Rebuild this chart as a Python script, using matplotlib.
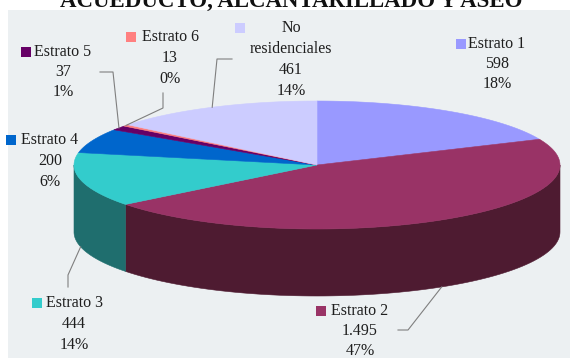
import numpy as np
import matplotlib
matplotlib.use("Agg")
import matplotlib.pyplot as plt
from matplotlib.patches import Polygon, Rectangle

# Suscriptores por estrato
categories = ["Estrato 1", "Estrato 2", "Estrato 3", "Estrato 4",
              "Estrato 5", "Estrato 6", "No\nresidenciales"]
values = [598, 1495, 444, 200, 37, 13, 461]
percent_labels = ["18%", "47%", "14%", "6%", "1%", "0%", "14%"]
title = "ACUEDUCTO, ALCANTARILLADO Y ASEO"

TOP_COLORS = ["#9999FF", "#993366", "#33CCCC", "#0066CC",
              "#660066", "#FF8080", "#CCCCFF"]
SIDE_COLORS = ["#5C5C99", "#4E1B31", "#1F6E6E", "#003D7A",
               "#3D003D", "#994D4D", "#7A7A99"]

# pie geometry in pixel units
CX, CY = 317, 165
RX, RY = 243, 64
DEPTH = 67

# label blocks: (key x, key y, text centre x, first line y, line gap)
LABEL_POS = [
    (456, 39, 497, 44, 20),
    (316, 306, 360, 311, 20),
    (32, 298, 74, 303, 21),
    (6, 135, 50, 140, 21),
    (21, 47, 63, 52, 20),
    (126, 32, 170, 37, 21),
    (235, 23, 291, 28, 21),
]
# elbow points of leader lines (label side)
LEADERS = {
    1: [(398, 330), (408, 330)],
    2: [(68, 287), (68, 275)],
    4: [(100, 72), (113, 72)],
    5: [(163, 93), (163, 108)],
    6: [(232, 59), (217, 59)],
}

SERIF = ["Liberation Serif", "DejaVu Serif"]
TEXT_COLOR = "#1E1E1E"


def ell(t_deg, dy=0.0):
    t = np.radians(t_deg)
    return CX + RX * np.cos(t), CY - RY * np.sin(t) + dy


fig = plt.figure(figsize=(5.7, 3.58), dpi=100)
fig.patch.set_facecolor("white")
ax = fig.add_axes([0, 0, 1, 1])
ax.set_xlim(0, 570)
ax.set_ylim(358, 0)
ax.axis("off")

# chart area
ax.add_patch(Rectangle((8, 10), 570, 360, facecolor="#ECF0F2",
                       edgecolor="none", zorder=0))
# title sits above the visible frame, only its lower part shows
ax.text(291, 7, title, ha="center", va="baseline", fontsize=16.5,
        fontweight="bold", family=SERIF, color="#111111", zorder=5)

total = float(sum(values))
bounds = 90 - 360 * np.concatenate([[0], np.cumsum(values)]) / total
starts, ends = bounds[:-1], bounds[1:]

# front rim (only where sin(t) < 0)
for i, (s, e) in enumerate(zip(starts, ends)):
    for k in range(-2, 2):
        lo, hi = max(e, k * 360 - 180), min(s, k * 360)
        if hi <= lo:
            continue
        t = np.linspace(lo, hi, 80)
        xt, yt = ell(t)
        xb, yb = ell(t[::-1], DEPTH)
        pts = np.column_stack([np.concatenate([xt, xb]), np.concatenate([yt, yb])])
        ax.add_patch(Polygon(pts, closed=True, facecolor=SIDE_COLORS[i],
                             edgecolor=SIDE_COLORS[i], lw=0.4, zorder=1))

# top face
for i, (s, e) in enumerate(zip(starts, ends)):
    t = np.linspace(s, e, max(int(abs(s - e)), 2) + 1)
    xs, ys = ell(t)
    pts = np.column_stack([np.concatenate([[CX], xs]), np.concatenate([[CY], ys])])
    ax.add_patch(Polygon(pts, closed=True, facecolor=TOP_COLORS[i],
                         edgecolor=TOP_COLORS[i], lw=0.4, zorder=2))

# leaders: front slices point at the bottom rim, back slices at the top edge
for i, elbow in LEADERS.items():
    mid = (starts[i] + ends[i]) / 2
    front = np.sin(np.radians(mid)) < 0
    px, py = ell(mid, DEPTH if front else 0)
    xs = [p[0] for p in elbow] + [px]
    ys = [p[1] for p in elbow] + [py]
    ax.plot(xs, ys, color="#7F7F7F", lw=0.8, zorder=4)

# labels
for i, name in enumerate(categories):
    kx, ky, cx, y0, gap = LABEL_POS[i]
    ax.add_patch(Rectangle((kx, ky), 9.5, 9.5, facecolor=TOP_COLORS[i],
                           edgecolor="none", zorder=5))
    lines = name.split("\n") + [f"{values[i]:,}".replace(",", "."), percent_labels[i]]
    for j, line in enumerate(lines):
        ax.text(cx, y0 + j * gap, line, ha="center", va="center",
                fontsize=11.5, family=SERIF, color=TEXT_COLOR, zorder=5)

fig.savefig("out.png", dpi=100, facecolor=fig.get_facecolor())
